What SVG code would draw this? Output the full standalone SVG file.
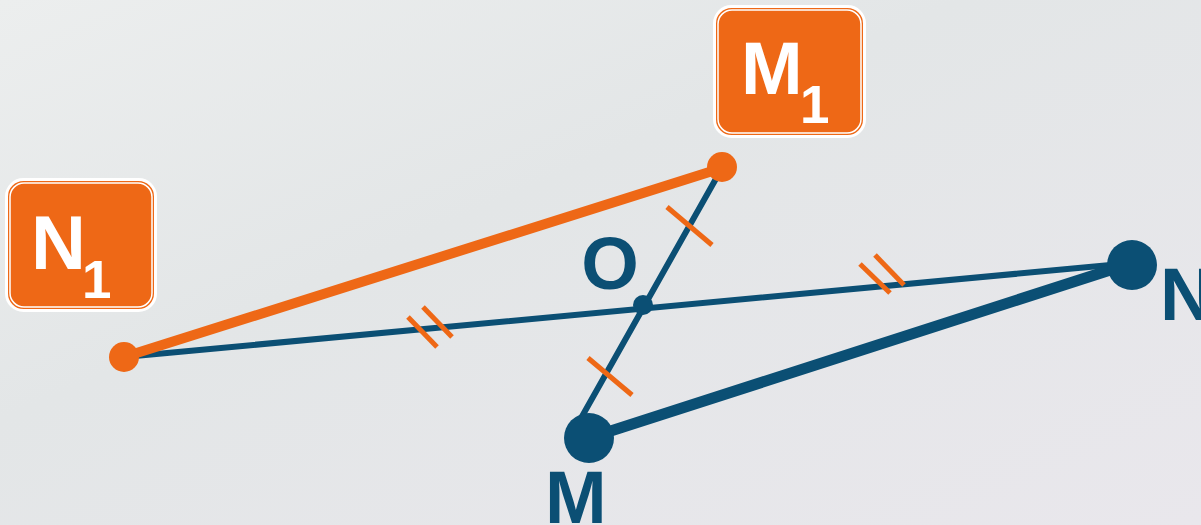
<svg xmlns="http://www.w3.org/2000/svg" width="1201" height="525" viewBox="0 0 1201 525">
<defs>
<linearGradient id="bg" x1="0" y1="0" x2="1" y2="1">
<stop offset="0" stop-color="#ECEEEE"/>
<stop offset="0.4" stop-color="#E3E6E7"/>
<stop offset="1" stop-color="#E9E7EC"/>
</linearGradient>
<style>
.lbl{font-family:"Liberation Sans",Arial,sans-serif;font-weight:bold;}
.box{fill:#EE6816;stroke:#FFFFFF;stroke-width:3;}
.inner{fill:none;stroke:#FFFFFF;stroke-width:1.5;}
.w{fill:#FFFFFF;}
.b{fill:#0B4F74;}
.tick{stroke:#EE6816;stroke-width:5;}
</style>
</defs>
<rect width="1201" height="525" fill="url(#bg)"/>
<g id="connectors" stroke-linecap="round">
<line x1="124" y1="357" x2="1132" y2="263" stroke="#0B4F74" stroke-width="6"/>
<line x1="722" y1="168" x2="580" y2="420" stroke="#0B4F74" stroke-width="6"/>
<line x1="124" y1="357" x2="722" y2="168" stroke="#EE6816" stroke-width="10"/>
<line x1="589" y1="438" x2="1132" y2="263" stroke="#0B4F74" stroke-width="11"/>
<g stroke-linecap="butt">
<line class="tick" x1="667" y1="207" x2="712" y2="245"/>
<line class="tick" x1="588" y1="358" x2="632" y2="395"/>
<line class="tick" x1="408" y1="317" x2="437" y2="347"/>
<line class="tick" x1="423" y1="307" x2="452" y2="337"/>
<line class="tick" x1="860" y1="264" x2="890" y2="293"/>
<line class="tick" x1="875" y1="255" x2="904" y2="285"/>
</g>
</g>
<g id="N1">
<rect class="box" x="6.5" y="179.5" width="149" height="131" rx="17"/>
<rect class="inner" x="10" y="183" width="142" height="124" rx="14"/>
<text class="lbl w" x="31" y="269" font-size="76">N</text>
<text class="lbl w" x="82" y="298" font-size="53">1</text>
<circle cx="124" cy="357" r="15" fill="#EE6816"/>
</g>
<g id="M1">
<rect class="box" x="714.5" y="6.5" width="150" height="130" rx="17"/>
<rect class="inner" x="718" y="10" width="143" height="123" rx="14"/>
<text class="lbl w" x="741" y="94" font-size="74">M</text>
<text class="lbl w" x="800" y="123" font-size="53">1</text>
<circle cx="722" cy="167" r="15" fill="#EE6816"/>
</g>
<g id="O">
<circle cx="643" cy="305" r="10" fill="#0B4F74"/>
<text class="lbl b" x="610" y="289" font-size="74" text-anchor="middle">O</text>
</g>
<g id="M">
<circle cx="589" cy="438" r="25" fill="#0B4F74"/>
<text class="lbl b" x="545" y="523" font-size="74">M</text>
</g>
<g id="N">
<circle cx="1132" cy="265" r="25" fill="#0B4F74"/>
<text class="lbl b" x="1160" y="320" font-size="74">N</text>
</g>
</svg>
